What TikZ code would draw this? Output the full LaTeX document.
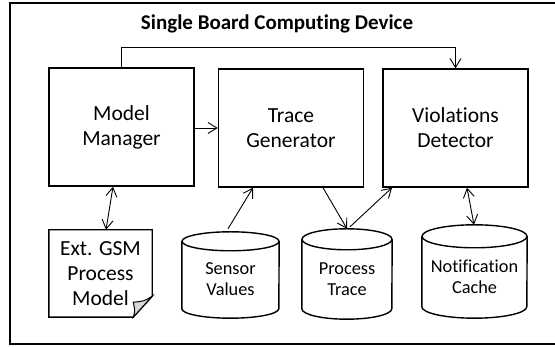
\documentclass[tikz,border=0pt]{standalone}
\usepackage{fontspec}
\setmainfont{Carlito}[RawFeature={-liga;-clig;-calt;-dlig}]
\usetikzlibrary{arrows.meta,calc}
\tikzset{
  box/.style={draw,line width=1.4pt,minimum width=145pt,minimum height=118pt,inner sep=0pt,align=center,font=\fontsize{21.5}{25}\selectfont},
  blank/.style={draw=none,inner sep=0pt,align=center},
  conn/.style={line width=0.9pt},
  tip/.style={-{Straight Barb[length=9pt,width=11pt,line width=0.9pt]}},
  tips/.style={{Straight Barb[length=9pt,width=11pt,line width=0.9pt]}-{Straight Barb[length=9pt,width=11pt,line width=0.9pt]}},
  cyltext/.style={font=\fontsize{18.3}{21.5}\selectfont,align=center,inner sep=0pt},
}
\newcommand{\mycyl}[3]{% name, half width, ry
  \draw[line width=1.4pt] ([yshift=-#3pt]#1.north west) -- ([yshift=#3pt]#1.south west)
    arc[start angle=180,end angle=360,x radius=#2pt,y radius=#3pt]
    -- ([yshift=-#3pt]#1.north east);
  \draw[line width=1.4pt] ([yshift=-#3pt]#1.north) ellipse[x radius=#2pt,y radius=#3pt];
}
\begin{document}
\begin{tikzpicture}[x=1pt,y=1pt]
\useasboundingbox (0,0) rectangle (555,347);
\draw[line width=1.8pt] (10,3) rectangle (565,344);
\node[font=\bfseries\fontsize{21}{25}\selectfont,inner sep=0pt] (title) at (277,323) {Single Board Computing Device};

\node[box] (mm) at (121.5,220) {Model\\Manager};
\node[box] (tg) at (291,219) {Trace\\Generator};
\node[box] (vd) at (455.5,219) {Violations\\Detector};

% document
\node[blank,minimum width=103pt,minimum height=87pt,font=\fontsize{21.5}{25}\selectfont] (doc) at (100.5,73.5) {Ext. GSM\\Process\\Model};
\draw[line width=1.4pt] (doc.north west) -- (doc.north east) -- ([yshift=21pt]doc.south east)
  -- ([xshift=-19pt]doc.south east) -- (doc.south west) -- cycle;
\draw[line width=1pt,fill=gray!30] ([yshift=21pt]doc.south east) .. controls ([xshift=-8pt,yshift=16pt]doc.south east) .. ([xshift=-19pt,yshift=15pt]doc.south east)
  .. controls ([xshift=-17pt,yshift=6pt]doc.south east) .. ([xshift=-19pt]doc.south east) -- cycle;

% cylinders
\node[blank,minimum width=97pt,minimum height=86pt] (sv) at (230.5,72) {};
\node[cyltext] (svt) at (230.5,68) {Sensor\\Values};
\mycyl{sv}{48.5}{9.5}
\node[blank,minimum width=90pt,minimum height=90pt] (pt) at (347,73) {};
\node[cyltext] (ptt) at (347,68) {Process\\Trace};
\mycyl{pt}{45}{10.5}
\node[blank,minimum width=105pt,minimum height=93pt] (nc) at (474.5,75.5) {};
\node[cyltext] (nct) at (474.5,70) {Notification\\Cache};
\mycyl{nc}{52.5}{11.5}

% connectors
\draw[conn,tip] (mm.north) -- ++(0,20) -| (vd.north);
\draw[conn,tip] (tg.west -| mm.east) -- (tg.west);
\draw[conn,tips] ([xshift=-8.5pt]mm.south) -- ([xshift=5.5pt]doc.north);
\draw[conn,tip] ([xshift=-2.5pt,yshift=3pt]sv.north) -- ([xshift=-38pt]tg.south);
\draw[conn,tip] ([xshift=32pt]tg.south) -- (pt.north);
\draw[conn,tip] ([xshift=3pt,yshift=2pt]pt.north) -- ([xshift=-63.5pt]vd.south);
\draw[conn,tips] ([xshift=11.5pt]vd.south) -- ([xshift=-0.5pt]nc.north);
\end{tikzpicture}
\end{document}
